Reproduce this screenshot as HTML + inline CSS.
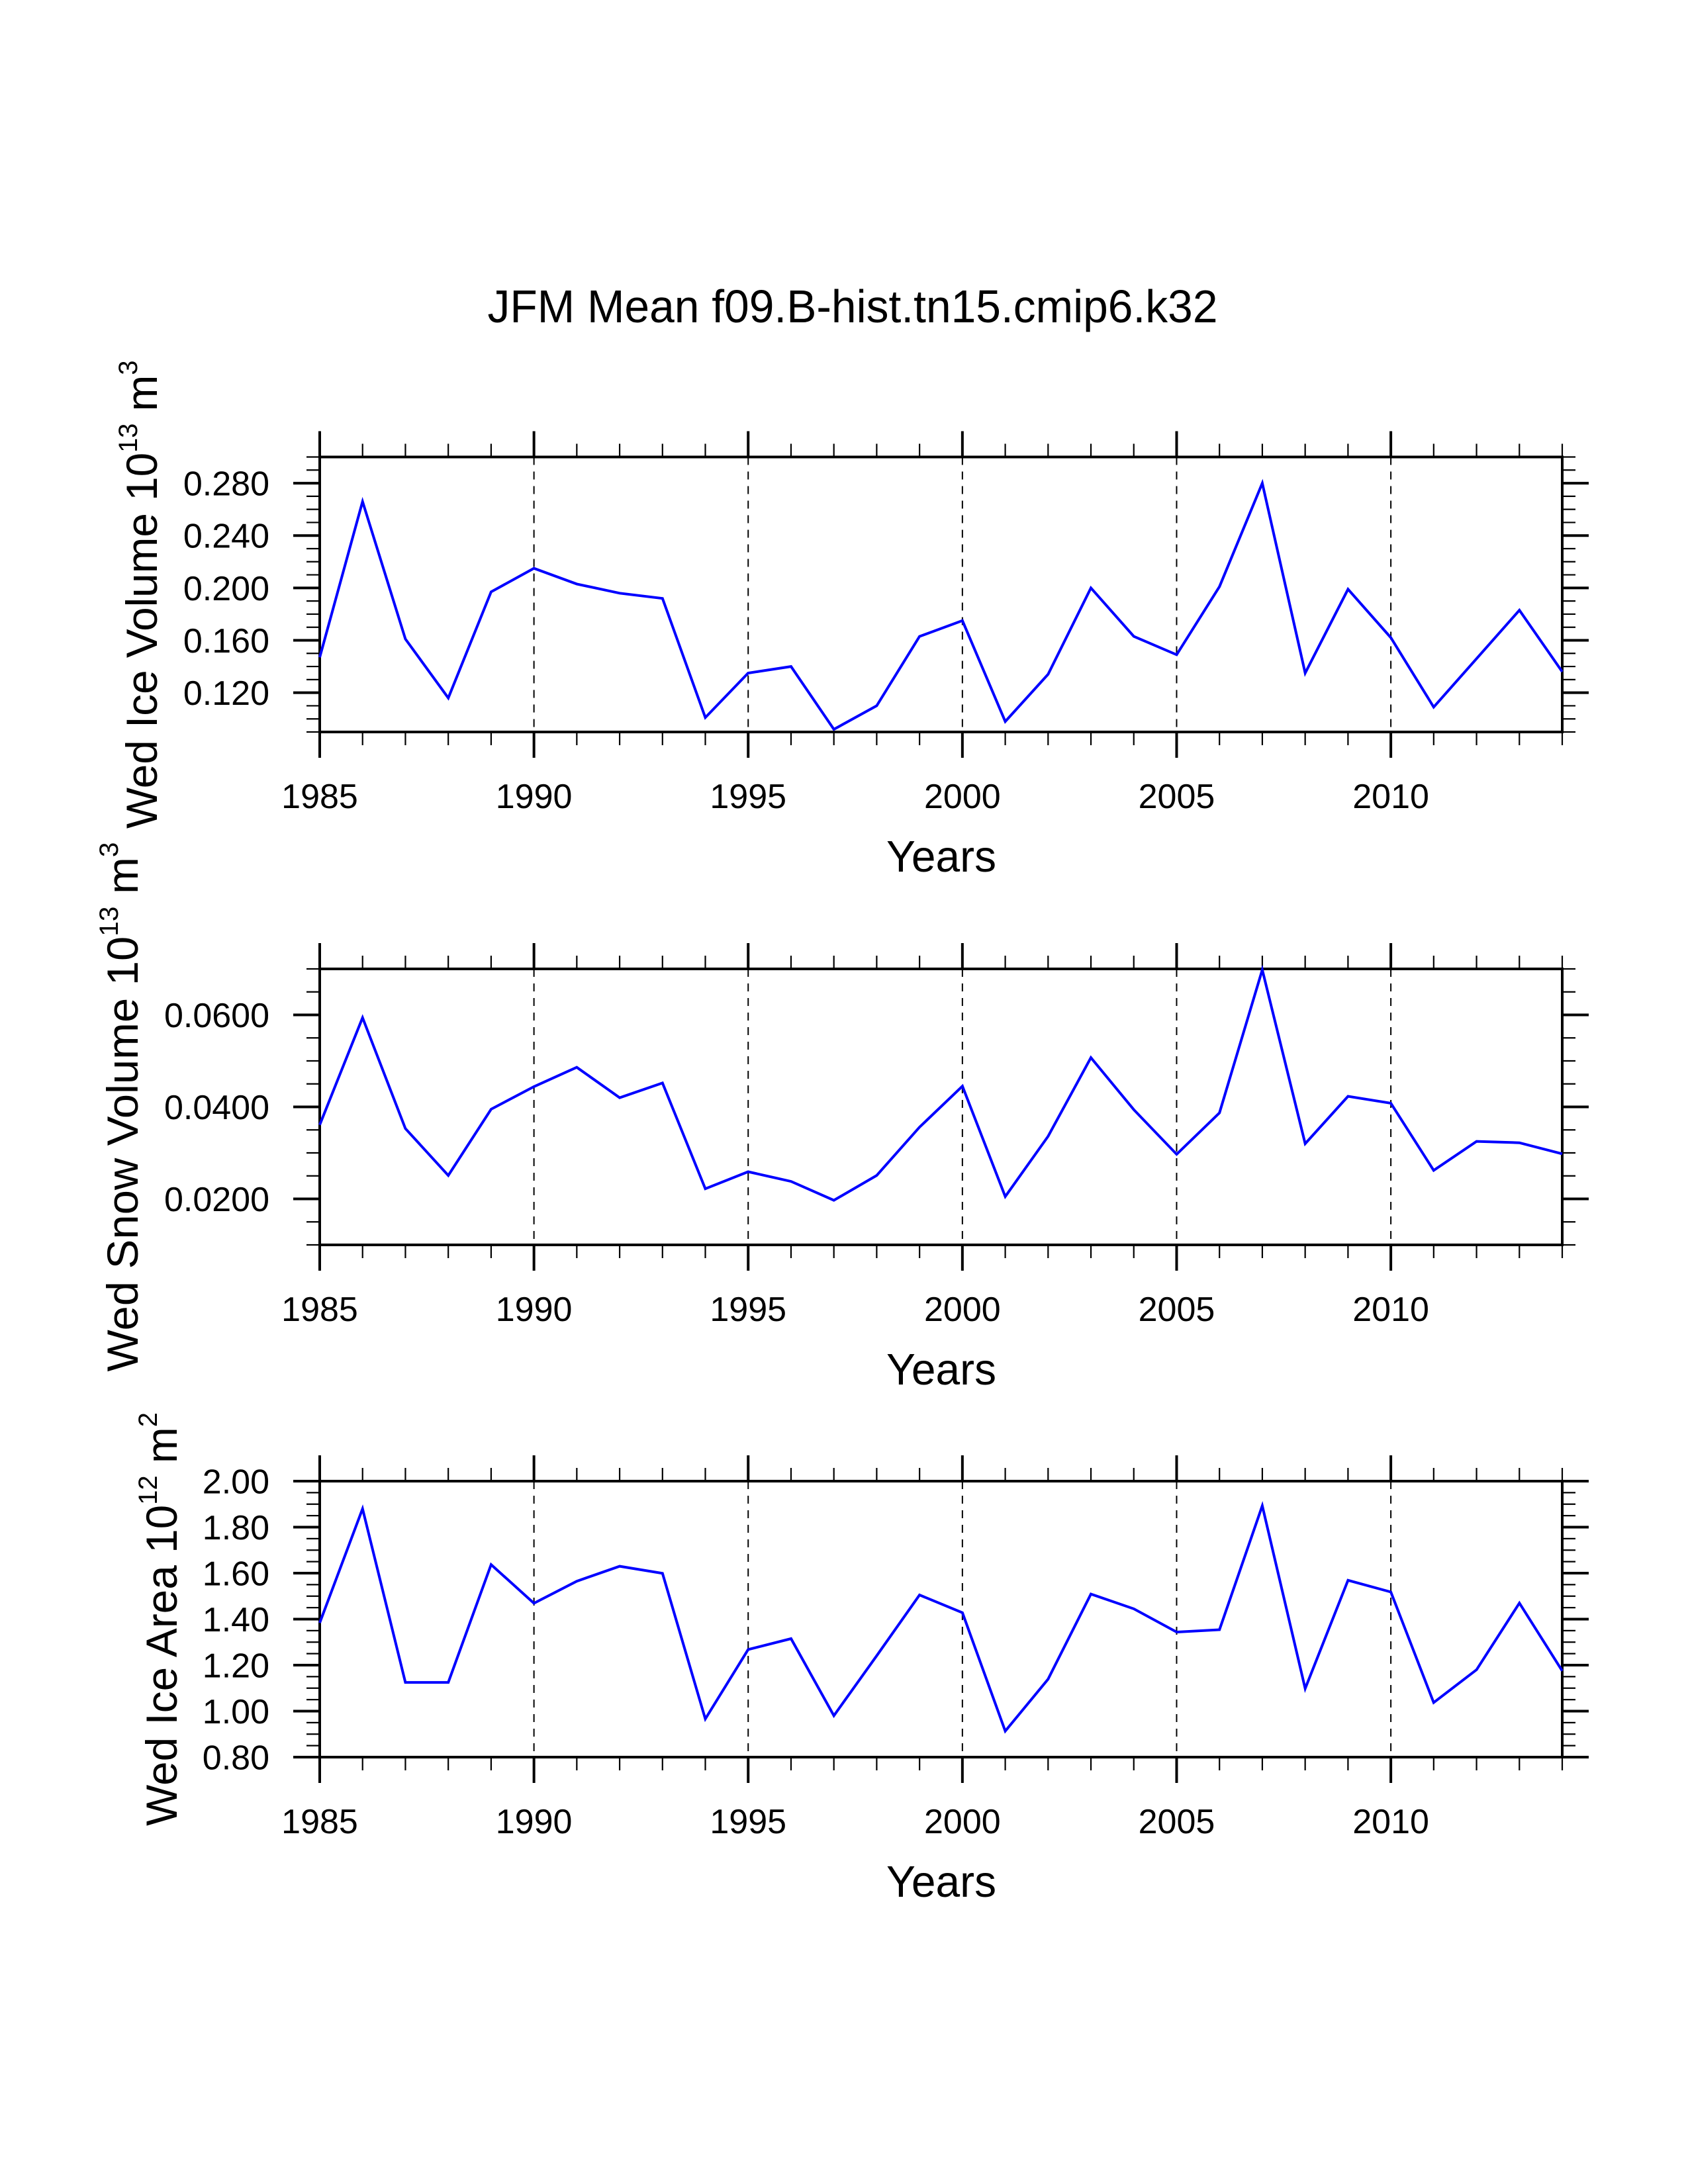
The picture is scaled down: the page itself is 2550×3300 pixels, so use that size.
<!DOCTYPE html>
<html>
<head>
<meta charset="utf-8">
<style>
  html,body{margin:0;padding:0;background:#fff;}
  svg{display:block;}
  text{font-family:"Liberation Sans", sans-serif; fill:#000;}
</style>
</head>
<body>
<svg id="chart" width="2550" height="3300" viewBox="0 0 2550 3300" xmlns="http://www.w3.org/2000/svg">
  <rect width="2550" height="3300" fill="#fff"/>
  <text id="title" x="1288" y="487" font-size="70" text-anchor="middle" textLength="1103" lengthAdjust="spacingAndGlyphs">JFM Mean f09.B-hist.tn15.cmip6.k32</text>
</svg>
<script>
const years = [1985,1986,1987,1988,1989,1990,1991,1992,1993,1994,1995,1996,1997,1998,1999,2000,2001,2002,2003,2004,2005,2006,2007,2008,2009,2010,2011,2012,2013,2014];
const iceVolume = [0.147,0.266,0.161,0.116,0.197,0.215,0.203,0.196,0.192,0.101,0.135,0.140,0.092,0.110,0.163,0.175,0.098,0.134,0.200,0.163,0.149,0.201,0.280,0.135,0.199,0.162,0.109,0.146,0.183,0.136];
const snowVolume = [0.0361,0.0594,0.0353,0.0251,0.0395,0.0444,0.0486,0.0420,0.0452,0.0222,0.0259,0.0238,0.0197,0.0251,0.0356,0.0445,0.0205,0.0336,0.0507,0.0394,0.0297,0.0387,0.0698,0.0320,0.0423,0.0408,0.0262,0.0325,0.0322,0.0298];
const iceArea = [1.384,1.880,1.125,1.125,1.637,1.469,1.565,1.630,1.599,0.966,1.268,1.315,0.980,1.241,1.505,1.428,0.913,1.139,1.509,1.445,1.344,1.354,1.893,1.098,1.569,1.518,1.037,1.180,1.470,1.175];
const xTickLabels = ["1985","1990","1995","2000","2005","2010"];
const iceVolumeTicks = ["0.120","0.160","0.200","0.240","0.280"];
const snowVolumeTicks = ["0.0200","0.0400","0.0600"];
const iceAreaTicks = ["0.80","1.00","1.20","1.40","1.60","1.80","2.00"];

const NS = "http://www.w3.org/2000/svg";
const svg = document.getElementById('chart');
const X0 = 483, X1 = 2360, XMIN = 1985, XMAX = 2014;
function xScale(v){ return X0 + (v - XMIN) / (XMAX - XMIN) * (X1 - X0); }
function mk(tag, attrs, parent){
  const e = document.createElementNS(NS, tag);
  for (const k in attrs) e.setAttribute(k, attrs[k]);
  (parent || svg).appendChild(e);
  return e;
}

const panels = [
  {key:'ice-volume', top:690.5, bottom:1106, min:0.09, max:0.30, minor:0.01, ticks:iceVolumeTicks, data:iceVolume,
   titleMain:'Wed Ice Volume 10', sup1:'13', mid:' m', sup2:'3', titleX:237, titleLen:708},
  {key:'snow-volume', top:1464, bottom:1881, min:0.01, max:0.07, minor:0.005, ticks:snowVolumeTicks, data:snowVolume,
   titleMain:'Wed Snow Volume 10', sup1:'13', mid:' m', sup2:'3', titleX:208, titleLen:800},
  {key:'ice-area', top:2238, bottom:2655, min:0.8, max:2.0, minor:0.05, ticks:iceAreaTicks, data:iceArea,
   titleMain:'Wed Ice Area 10', sup1:'12', mid:' m', sup2:'2', titleX:267, titleLen:625}
];

panels.forEach(p => {
  const g = mk('g', {});
  
  
  const yScale = v => p.bottom - (v - p.min) / (p.max - p.min) * (p.bottom - p.top);

  // dashed grid at major x
  xTickLabels.forEach(lbl => {
    const v = +lbl;
    if (v === XMIN || v === XMAX) return;
    const l = mk('line', {x1:xScale(v), x2:xScale(v), y1:p.top, y2:p.bottom, stroke:'#000', 'stroke-width':2, 'stroke-dasharray':'12,10'}, g);
    
    
  });

  // x ticks (every year), top and bottom
  years.forEach(yr => {
    const major = (yr % 5 === 0);
    const len = major ? 39 : 20, w = major ? 4 : 2.2, x = xScale(yr);
    mk('line', {x1:x, x2:x, y1:p.top, y2:p.top - len, stroke:'#000', 'stroke-width':w}, g);
    mk('line', {x1:x, x2:x, y1:p.bottom, y2:p.bottom + len, stroke:'#000', 'stroke-width':w}, g);
  });
  xTickLabels.forEach(lbl => {
    const t = mk('text', {x:xScale(+lbl), y:p.bottom + 115, 'font-size':52, 'text-anchor':'middle'}, g);
    t.textContent = lbl;
    
    
  });

  // y ticks minor
  const nMinor = Math.round((p.max - p.min) / p.minor);
  for (let i = 0; i <= nMinor; i++) {
    const v = p.min + i * p.minor, y = yScale(v);
    mk('line', {x1:X0, x2:X0 - 20, y1:y, y2:y, stroke:'#000', 'stroke-width':2.2}, g);
    mk('line', {x1:X1, x2:X1 + 20, y1:y, y2:y, stroke:'#000', 'stroke-width':2.2}, g);
  }
  p.ticks.forEach(lbl => {
    const y = yScale(+lbl);
    mk('line', {x1:X0, x2:X0 - 40, y1:y, y2:y, stroke:'#000', 'stroke-width':4}, g);
    mk('line', {x1:X1, x2:X1 + 40, y1:y, y2:y, stroke:'#000', 'stroke-width':4}, g);
    const t = mk('text', {x:407, y:y + 18.5, 'font-size':52, 'text-anchor':'end'}, g);
    t.textContent = lbl;
    
    
  });

  // frame
  const fr = mk('rect', {x:X0, y:p.top, width:X1 - X0, height:p.bottom - p.top, fill:'none', stroke:'#000', 'stroke-width':4}, g);
  
  

  // series line
  const pts = p.data.map((v, i) => xScale(years[i]).toFixed(1) + ',' + yScale(v).toFixed(1)).join(' ');
  const pl = mk('polyline', {points:pts, fill:'none', stroke:'#0000ff', 'stroke-width':4, 'stroke-linejoin':'miter'}, g);
  
  

  // x axis title
  const xt = mk('text', {x:1422, y:p.bottom + 211, 'font-size':67, 'text-anchor':'middle', textLength:166, lengthAdjust:'spacingAndGlyphs'}, g);
  xt.textContent = 'Years';
  
  

  // y axis title (rotated)
  const cy = (p.top + p.bottom) / 2;
  const yg = mk('g', {transform:'translate(' + p.titleX + ',' + cy + ') rotate(-90)'}, g);
  const yt = mk('text', {x:0, y:0, 'font-size':66, 'text-anchor':'middle'}, yg);
  
  
  const s0 = mk('tspan', {}, yt); s0.textContent = p.titleMain;
  const s1 = mk('tspan', {dy:-30, 'font-size':40}, yt); s1.textContent = p.sup1;
  const s2 = mk('tspan', {dy:30}, yt); s2.textContent = p.mid;
  const s3 = mk('tspan', {dy:-30, 'font-size':40}, yt); s3.textContent = p.sup2;
  const w = yt.getComputedTextLength();
  if (w > 0) yt.setAttribute('transform', 'scale(' + (p.titleLen / w).toFixed(3) + ',1)');
});
</script>
</body>
</html>
